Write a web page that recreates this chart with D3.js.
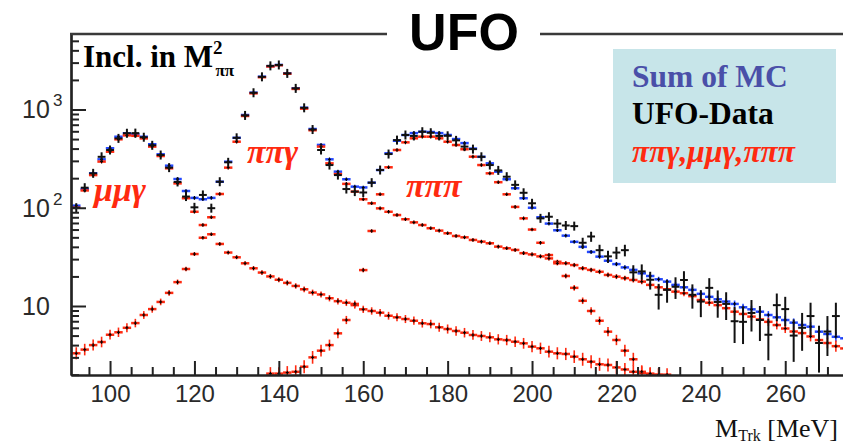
<!DOCTYPE html>
<html><head><meta charset="utf-8">
<script src="https://cdn.jsdelivr.net/npm/d3@7"></script>
<style>body{margin:0;background:#fff}svg{display:block}</style>
</head><body>
<svg id="c" width="843" height="447"></svg>
<script>
// ---------------- DATA ----------------
const mass = [92,94,96,98,100,102,104,106,108,110,112,114,116,118,120,122,124,126,128,130,
 132,134,136,138,140,142,144,146,148,150,152,154,156,158,160,162,164,166,168,170,
 172,174,176,178,180,182,184,186,188,190,192,194,196,198,200,202,204,206,208,210,
 212,214,216,218,220,222,224,226,228,230,232,234,236,238,240,242,244,246,248,250,
 252,254,256,258,260,262,264,266,268,270,272,274];

const sumMC = [105,155,224,311,403,528,573,560,528,443,
 350,268,196,148,126,122,126,184,294,515,
 879,1483,2157,2760,2840,2332,1644,1042,633,436,
 311,233,195,164,161,180,242,358,481,550,
 575,594,590,575,550,500,455,400,330,283,
 233,195,158,125,100,80,69,59,52,45,
 40,35.5,31.8,28.9,26.7,24.7,23.3,21.5,20.2,18.7,
 17.7,16.4,15.5,14.6,13.3,12.4,11.7,11.1,10.5,9.7,
 9.25,8.75,8.1,7.67,7.2,6.77,6.41,6.16,5.48,5.19,
 4.86,4.69];

const ufoData = [100,160,224,330,387,508,573,575,522,432,
 344,256,183,130,101,135,99,184,290,515,
 870,1480,2150,2780,2840,2330,1640,1040,625,387,
 272,215,155,146,143,180,242,352,488,550,
 538,594,580,538,540,485,419,395,330,272,
 240,207,171,142,111,78,81,69,66,65,
 44,51,37,32,35,37,22,22.5,18.5,13,
 14.6,15.7,18.4,13,11.1,15.3,11,10.5,7.0,6.9,
 8.5,7.2,5.1,10.2,9.3,5.0,6.0,7.9,4.2,5.5,
 7.9,null];

const ufoDataErr = [8,10,12,14,16,18,19,19,18,16,
 14,12,10,9,8,9,8,10,13,18,
 23,30,36,41,42,38,32,25,19,15,
 12,11,9,9,9,10,12,15,17,18,
 18,19,19,18,18,17,16,15,14,12,
 11,11,10,9,8,7,7,6.5,6.5,6.5,
 5.5,6,5,4.5,5,5,4,4,3.8,3.8,
 3.8,3.9,4.2,3.6,3.4,3.9,3.4,3.3,2.8,2.8,
 3.0,2.8,2.3,3.2,3.1,2.3,2.5,2.9,2.1,2.4,
 2.9,null];

const pipigamma = [3.3,3.6,4.0,4.3,5.1,5.4,6.0,6.7,8.1,9.3,
 11.0,13.6,17.5,23.8,33.8,49.5,80,138,256,470,
 859,1460,2130,2740,2820,2310,1620,1020,615,419,
 283,220,175,146,122,111,98.6,91,84.3,76.4,
 71,66.7,61.9,58.5,55,51.6,50,47,45.2,43.5,
 40.2,38.7,37.2,34.5,33.5,32.0,30.5,28.2,27.2,26.1,
 24.2,23.3,22.3,20.7,19.9,19.2,18.4,17.7,16.4,15.5,
 14.8,14.0,13.5,12.6,11.5,10.8,10.2,9.5,8.75,8.3,
 7.8,7.3,6.9,6.4,5.9,5.5,5.3,4.9,4.5,4.2,
 3.9,3.7];

const mumugamma = [100,150,215,295,372,497,545,540,508,419,
 336,252,177,125,91,66.7,53.7,42.8,35,31.3,
 27.2,24.2,21.9,20,18.5,17.2,16.0,14.8,13.7,13.1,
 12.0,11.2,10.8,10.2,9.25,8.9,8.55,7.96,7.67,7.37,
 7.08,6.67,6.55,6.07,5.83,5.57,5.35,5.07,4.95,4.8,
 4.58,4.5,4.33,4.17,3.86,3.71,3.43,3.3,3.25,3.05,
 2.87,2.71,2.55,2.51,2.37,2.26,2.14,2.09,2.02,1.99,
 null,null,null,null,null,null,null,null,null,null,
 null,null,null,null,null,null,null,null,null,null,
 null,null];

const pipipi = [null,null,null,null,null,null,null,null,null,null,
 null,null,null,null,null,null,null,null,null,null,
 null,null,null,2.05,2.05,2.1,2.14,2.41,3.0,3.51,
 4.0,5.27,7.2,10.5,23.2,58,137,258,387,463,
 509,529,529,509,470,435,394,331,272,224,
 182,137,102,78,60,44,33,27.2,20.2,15.3,
 11.3,8.9,7.08,5.48,4.51,3.51,2.87,2.14,2.05,2.0,
 2.0,null,null,null,null,null,null,null,null,null,
 null,null,null,null,null,null,null,null,null,null,
 null,null];

const xTickLabels = [100,120,140,160,180,200,220,240,260];
const yTickLabels = [{v:10, base:"10", exp:""},{v:100, base:"10", exp:"2"},{v:1000, base:"10", exp:"3"}];
const legendLines = ["Sum of MC","UFO-Data","ππγ,μμγ,πππ"];

// ---------------- SCALES ----------------
const svg = d3.select("#c");
const L = 71, T = 34, B = 375;
const x = d3.scaleLinear().domain([90.75, 275]).range([L, L + 184.25 * 4.22]);
const y = d3.scaleLog().domain([1.985, 5866]).range([B, T]);
const binHalf = 1;

const RED = "#ff2a10", BLUE = "#2448ff", BLACK = "#111";

svg.append("defs").append("clipPath").attr("id", "plotclip")
  .append("rect").attr("x", L).attr("y", T).attr("width", 800).attr("height", B - T);

const plot = svg.append("g").attr("clip-path", "url(#plotclip)");

function drawMC(vals, color) {
  const g = plot.append("g");
  mass.forEach((m, i) => {
    const v = vals[i];
    if (v == null) return;
    const cy = y(v), cx = x(m);
    const len = Math.max(1.5, Math.min(6.5, 11 / Math.sqrt(v)));
    g.append("line").attr("x1", x(m - binHalf)).attr("x2", x(m + binHalf))
      .attr("y1", cy).attr("y2", cy).attr("stroke", color).attr("stroke-width", 2.5);
    g.append("line").attr("x1", cx).attr("x2", cx)
      .attr("y1", cy - len).attr("y2", cy + len).attr("stroke", color).attr("stroke-width", 1.6);
    g.append("line").attr("x1", cx).attr("x2", cx)
      .attr("y1", cy - 1.8).attr("y2", cy + 1.8).attr("stroke", "#000").attr("stroke-width", 1.1);
    g.append("line").attr("x1", cx - 1.5).attr("x2", cx + 1.5)
      .attr("y1", cy).attr("y2", cy).attr("stroke", "#000").attr("stroke-width", 1.1);
  });
}

drawMC(sumMC, BLUE);
drawMC(pipigamma, RED);
drawMC(mumugamma, RED);
drawMC(pipipi, RED);

// data
const gd = plot.append("g");
mass.forEach((m, i) => {
  const v = ufoData[i];
  if (v == null) return;
  const e = ufoDataErr[i];
  const cy = y(v), cx = x(m);
  const yTop = Math.min(y(v + e), cy - 4.5);
  const yBot = Math.max(y(Math.max(v - e, 0.5)), cy + 4.5);
  gd.append("line").attr("x1", x(m - binHalf) + 0.3).attr("x2", x(m + binHalf) - 0.3)
    .attr("y1", cy).attr("y2", cy).attr("stroke", BLACK).attr("stroke-width", 2);
  gd.append("line").attr("x1", cx).attr("x2", cx)
    .attr("y1", yTop).attr("y2", yBot).attr("stroke", BLACK).attr("stroke-width", 2);
});

// ---------------- AXES ----------------
const axisColor = "#222";
const xMinor = d3.range(95, 275, 5).filter(d => d % 20 !== 0);
const gxMinor = svg.append("g").attr("transform", `translate(0,${B})`)
  .call(d3.axisBottom(x).tickValues(xMinor).tickSizeInner(-8).tickSizeOuter(0).tickFormat(""));
const gx = svg.append("g").attr("transform", `translate(0,${B})`)
  .call(d3.axisBottom(x).tickValues(xTickLabels).tickSizeInner(-14).tickSizeOuter(0).tickPadding(10));
[gxMinor, gx].forEach(g => {
  g.selectAll("line").attr("stroke", axisColor).attr("stroke-width", 2);
  g.select(".domain").attr("stroke", axisColor).attr("stroke-width", 2.2);
});
gx.selectAll("text").attr("font-family", "Liberation Sans, Arial, sans-serif")
  .attr("font-size", 24).attr("fill", "#2a2a2a");

const yMinor = [];
[1, 10, 100, 1000].forEach(d => [2,3,4,5,6,7,8,9].forEach(k => {
  const v = k * d; if (v >= 1.985 && v <= 5866) yMinor.push(v);
}));
const gyMinor = svg.append("g").attr("transform", `translate(${L},0)`)
  .call(d3.axisLeft(y).tickValues(yMinor).tickSizeInner(-8).tickSizeOuter(0).tickFormat(""));
const gy = svg.append("g").attr("transform", `translate(${L},0)`)
  .call(d3.axisLeft(y).tickValues(yTickLabels.map(d => d.v)).tickSizeInner(-15).tickSizeOuter(0).tickFormat(""));
[gyMinor, gy].forEach(g => {
  g.selectAll("line").attr("stroke", axisColor).attr("stroke-width", 2);
  g.select(".domain").attr("stroke", axisColor).attr("stroke-width", 2.2);
});

const ylab = svg.append("g").attr("font-family", "Liberation Sans, Arial, sans-serif").attr("fill", "#2a2a2a");
yTickLabels.forEach(d => {
  ylab.append("text").attr("x", 22).attr("y", y(d.v) + 9).attr("font-size", 25).text(d.base);
  if (d.exp) ylab.append("text").attr("x", 53).attr("y", y(d.v) - 3).attr("font-size", 17).text(d.exp);
});

// top frame line with gap for title
svg.append("line").attr("x1", L - 1).attr("x2", 387).attr("y1", T).attr("y2", T)
  .attr("stroke", "#3a3a3a").attr("stroke-width", 2.4);
svg.append("line").attr("x1", 540).attr("x2", 843).attr("y1", T).attr("y2", T)
  .attr("stroke", "#3a3a3a").attr("stroke-width", 2.4);

// title
svg.append("text").attr("x", 464).attr("y", 50).attr("text-anchor", "middle")
  .attr("font-family", "Liberation Sans, Arial, sans-serif").attr("font-weight", "bold")
  .attr("font-size", 52).attr("fill", "#000").text("UFO");

// x axis title
const xt = svg.append("text").attr("x", 838).attr("y", 437).attr("text-anchor", "end")
  .attr("font-family", "Liberation Serif, Times New Roman, serif").attr("font-size", 26).attr("fill", "#111");
xt.append("tspan").text("M");
xt.append("tspan").attr("font-size", 16).attr("dy", 4).text("Trk");
xt.append("tspan").attr("dy", -4).text(" [MeV]");

// Incl. in M^2_pipi
const inc = svg.append("text").attr("x", 83).attr("y", 67)
  .attr("font-family", "Liberation Serif, Times New Roman, serif").attr("font-weight", "bold")
  .attr("font-size", 31).attr("fill", "#000");
inc.append("tspan").text("Incl. in M");
inc.append("tspan").attr("font-size", 19).attr("dy", -13).text("2");
inc.append("tspan").attr("font-size", 17).attr("dx", -7).attr("dy", 22).text("ππ");

// component labels
const lab = svg.append("g").attr("font-family", "Liberation Serif, Times New Roman, serif")
  .attr("font-style", "italic").attr("font-weight", "bold").attr("fill", RED);
lab.append("text").attr("x", 94).attr("y", 201).attr("font-size", 34).text("μμγ");
lab.append("text").attr("x", 247).attr("y", 163).attr("font-size", 34).text("ππγ");
lab.append("text").attr("x", 406).attr("y", 197).attr("font-size", 34).text("πππ");

// legend box
svg.append("rect").attr("x", 613).attr("y", 49).attr("width", 223).attr("height", 134).attr("fill", "#c7e5e9");
const leg = svg.append("g").attr("font-family", "Liberation Serif, Times New Roman, serif").attr("font-weight", "bold");
leg.append("text").attr("x", 632).attr("y", 87).attr("font-size", 31.5).attr("fill", "#4a4fa8").text(legendLines[0]);
leg.append("text").attr("x", 632).attr("y", 124).attr("font-size", 31.5).attr("fill", "#000").text(legendLines[1]);
leg.append("text").attr("x", 632).attr("y", 162).attr("font-size", 31.5).attr("font-style", "italic").attr("fill", RED).text(legendLines[2]);
</script>
</body></html>
